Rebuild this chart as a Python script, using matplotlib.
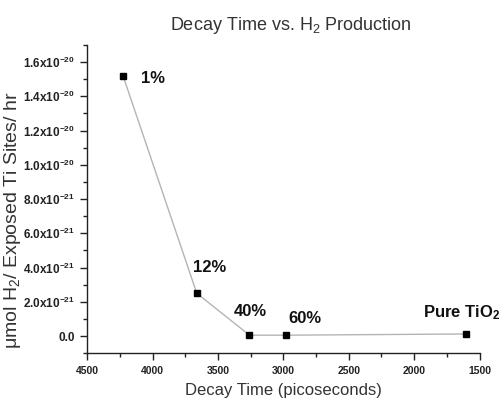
import numpy as np
import matplotlib
matplotlib.use("Agg")
import matplotlib.pyplot as plt
from matplotlib.ticker import MultipleLocator

plt.rcParams["font.family"] = ["Liberation Sans", "DejaVu Sans"]
plt.rcParams["mathtext.fontset"] = "custom"
plt.rcParams["mathtext.rm"] = "Liberation Sans"
plt.rcParams["mathtext.bf"] = "Liberation Sans:bold"
plt.rcParams["mathtext.it"] = "Liberation Sans:italic"

# data
decay_time = [4227, 3663, 3260, 2979, 1607]          # picoseconds
h2_rate = [1.52e-20, 2.5e-21, 5e-23, 5e-23, 1.2e-22]
point_labels = ["1%", "12%", "40%", "60%", r"Pure TiO$_\mathbf{2}$"]
label_offsets = [(18, -3), (-4, 26), (-16, 24), (2, 17), (-43, 21)]  # pixels

xticks = [4500, 4000, 3500, 3000, 2500, 2000, 1500]
yticks = [0, 2e-21, 4e-21, 6e-21, 8e-21, 1e-20, 1.2e-20, 1.4e-20, 1.6e-20]
ytick_labels = ["0.0", "2.0x10$^{-21}$", "4.0x10$^{-21}$", "6.0x10$^{-21}$",
                "8.0x10$^{-21}$", "1.0x10$^{-20}$", "1.2x10$^{-20}$",
                "1.4x10$^{-20}$", "1.6x10$^{-20}$"]

fig = plt.figure(figsize=(4.99, 4.05), dpi=100)
ax = fig.add_axes([0.175, 0.128, 0.786, 0.761])

ax.plot(decay_time, h2_rate, color="#b4b4b4", linewidth=1.0, zorder=1)
ax.plot(decay_time, h2_rate, "s", color="black", markersize=5, zorder=2)

for x, y, lab, (dx, dy) in zip(decay_time, h2_rate, point_labels, label_offsets):
    ax.annotate(lab, (x, y), xytext=(dx, dy), textcoords="offset pixels",
                ha="left", va="center", fontsize=12, fontweight="bold",
                color="#111111")

ax.set_xlim(4500, 1500)
ax.set_ylim(-1e-21, 1.7e-20)
ax.set_xticks(xticks)
ax.set_xticklabels([str(t) for t in xticks])
ax.set_yticks(yticks)
ax.set_yticklabels([r"$\mathbf{" + l.replace("$", "") + "}$" if "x10" in l else l
                    for l in ytick_labels])
ax.xaxis.set_minor_locator(MultipleLocator(250))
ax.yaxis.set_minor_locator(MultipleLocator(1e-21))

for side in ["top", "right"]:
    ax.spines[side].set_visible(False)
for side in ["left", "bottom"]:
    ax.spines[side].set_color("#222222")
    ax.spines[side].set_linewidth(1.0)

ax.tick_params(which="major", direction="out", length=5, width=1,
               colors="#222222")
ax.tick_params(which="minor", direction="out", length=3, width=1,
               colors="#222222")
ax.tick_params(axis="x", labelsize=7.5, pad=4)
ax.tick_params(axis="y", labelsize=8.5, pad=4)
for lbl in ax.get_xticklabels() + ax.get_yticklabels():
    lbl.set_fontweight("bold")

ax.set_xlabel("Decay Time (picoseconds)", fontsize=12, color="#333333",
              labelpad=5)
ax.set_ylabel("μmol H$_2$/ Exposed Ti Sites/ hr", fontsize=14,
              color="#333333")
ax.yaxis.set_label_coords(-0.165, 0.43)
ax.set_title("Decay Time vs. H$_2$ Production", fontsize=13,
             color="#333333", pad=11, x=0.52)

fig.savefig("out.png", dpi=100)
